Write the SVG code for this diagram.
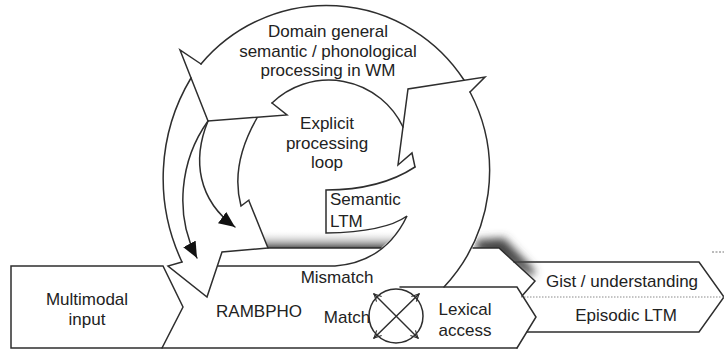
<svg xmlns="http://www.w3.org/2000/svg" width="724" height="350" viewBox="0 0 724 350">
  <defs>
    <style>
      .ln{fill:none;stroke:#2e2e2e;stroke-width:1.5;stroke-linejoin:miter;stroke-linecap:round}
      .lbl{font-family:"Liberation Sans",Arial,Helvetica,sans-serif;font-size:17px;fill:#222;text-anchor:middle}
      .lft{text-anchor:start}
    </style>
    <linearGradient id="shelfShade" x1="0" y1="0" x2="0" y2="1">
      <stop offset="0" stop-color="#ffffff" stop-opacity="0"/>
      <stop offset="0.6" stop-color="#a8a8a8" stop-opacity="0.65"/>
      <stop offset="1" stop-color="#555555"/>
    </linearGradient>
    <filter id="soft" x="-50%" y="-50%" width="200%" height="200%">
      <feGaussianBlur stdDeviation="4.5"/>
    </filter>
    <clipPath id="outsideRing">
      <path d="M489,196 L580,196 L580,310 L535,281 L499,248 L473,248 L483,225 Z"/>
    </clipPath>
    <marker id="headFill" viewBox="0 0 16 14" refX="16" refY="7" markerWidth="16" markerHeight="14" markerUnits="userSpaceOnUse" orient="auto">
      <path d="M0,0 L16,7 L0,14 Z" fill="#111"/>
    </marker>
    <marker id="headOpen" viewBox="0 0 10 10" refX="9" refY="5" markerWidth="9" markerHeight="9" markerUnits="userSpaceOnUse" orient="auto-start-reverse">
      <path d="M1,1 L9,5 L1,9" fill="none" stroke="#2e2e2e" stroke-width="1.3"/>
    </marker>
  </defs>

  <rect width="724" height="350" fill="#fff"/>

  <!-- output chevron: gist above, episodic memory below -->
  <g id="gist-episodic">
    <path class="ln" d="M514,262 H699 L724,297 L699,332 H527"/>
    <path d="M521,297 H724" fill="none" stroke="#8a8a8a" stroke-width="1" stroke-dasharray="1.5 1.5"/>
    <path d="M712,252 H724" fill="none" stroke="#777" stroke-width="1" stroke-dasharray="2 1.5"/>
    <text class="lbl" x="622" y="287">Gist / understanding</text>
    <text class="lbl" x="626" y="321">Episodic LTM</text>
  </g>

  <!-- raised shelf behind the loops, with its cast shadow -->
  <g id="shelf">
    <path d="M262,230 L400,230 L394,236 L381,248 L268,248 Z" fill="url(#shelfShade)"/>
    <g clip-path="url(#outsideRing)">
      <path d="M476,240 L504,238 L536,272 L530,276 L514,266 L496,256 L476,252 Z" fill="#444" filter="url(#soft)"/>
    </g>
    <path class="ln" d="M249,201 L268,248 H381"/>
    <path class="ln" d="M473,248 H499 L535,281 L522,296"/>
  </g>

  <g id="multimodal-input">
    <path class="ln" d="M163,266 H11 V348 H162 L183,307 Z"/>
    <text class="lbl" x="87" y="305">Multimodal</text>
    <text class="lbl" x="87" y="325">input</text>
  </g>

  <g id="lexical-access">
    <path class="ln" d="M400,287 H517 L536,317 L517,348"/>
    <text class="lbl" x="465" y="315">Lexical</text>
    <text class="lbl" x="465" y="336">access</text>
  </g>

  <g id="match-switch">
    <circle cx="396" cy="316" r="27" fill="#fff" stroke="#2e2e2e" stroke-width="1.5"/>
    <path class="ln" d="M374,294 L418,338" marker-start="url(#headOpen)" marker-end="url(#headOpen)"/>
    <path class="ln" d="M419,294 L374,338" marker-start="url(#headOpen)" marker-end="url(#headOpen)"/>
  </g>

  <g id="rambpho">
    <path class="ln" d="M162,348 H517"/>
    <path class="ln" d="M182,262 L168,266 L207,297 L222,252 L268,248"/>
    <text class="lbl" x="259" y="317">RAMBPHO</text>
    <text class="lbl" x="337" y="283">Mismatch</text>
    <text class="lbl" x="347" y="323">Match</text>
  </g>

  <!-- large working-memory loop -->
  <g id="wm-loop">
    <path class="ln" d="M201,64 A164,164 0 0 1 464,80"/>
    <path class="ln" d="M201,64 L180,50 L208,121 L287,115 L272,103"/>
    <path class="ln" d="M191,78 A195,195 0 0 0 182,262"/>
    <path class="ln" d="M470,92 A170,170 0 0 1 444,287"/>
    <path class="ln" d="M470,92 L485,77 L408,89 L398,165 L412,153 L415,167"/>
    <text class="lbl" x="328" y="37">Domain general</text>
    <text class="lbl" x="328" y="56.5">semantic / phonological</text>
    <text class="lbl" x="328" y="76">processing in WM</text>
  </g>

  <g id="explicit-loop">
    <path class="ln" d="M272,103 A82,82 0 0 1 403,127"/>
    <path class="ln" d="M257,118 Q230,165 241,206 L249,200"/>
    <text class="lbl" x="327" y="129">Explicit</text>
    <text class="lbl" x="327" y="148.5">processing</text>
    <text class="lbl" x="327" y="168">loop</text>
  </g>

  <g id="semantic-ltm">
    <path class="ln" d="M415,167 Q380,190 326,190 V233 Q385,232 407,216 Q385,262 335,266 H218"/>
    <text class="lbl lft" x="330" y="205">Semantic</text>
    <text class="lbl lft" x="330" y="227">LTM</text>
  </g>

  <g id="connectors">
    <path class="ln" d="M208,121 C180,160 174,215 197,258" marker-end="url(#headFill)"/>
    <path class="ln" d="M208,121 C192,160 198,200 235,227" marker-end="url(#headFill)"/>
  </g>
</svg>
